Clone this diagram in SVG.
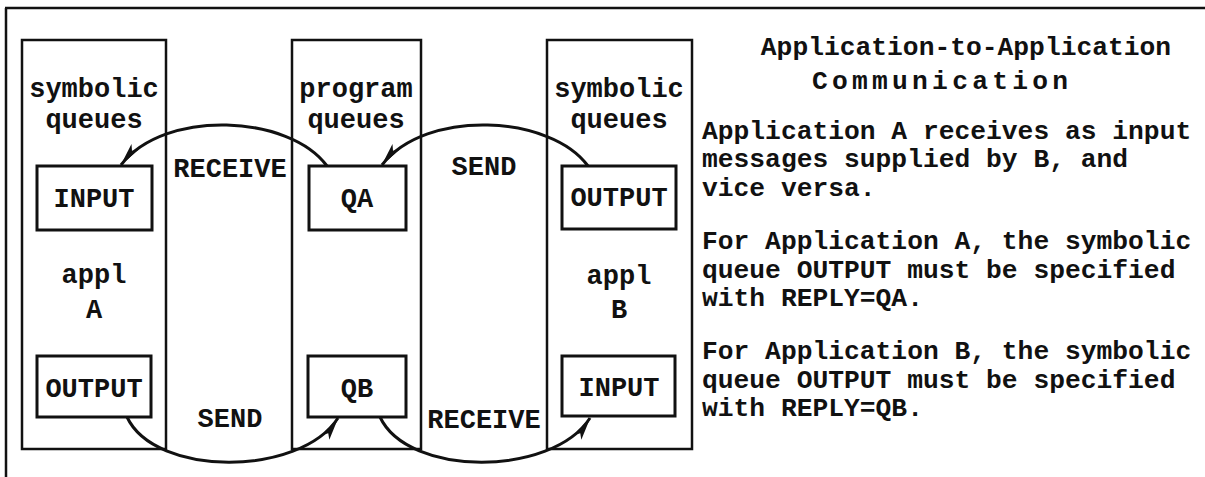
<svg xmlns="http://www.w3.org/2000/svg" width="1205" height="477" viewBox="0 0 1205 477">
  <style>
    .frame { fill: none; stroke: #111; stroke-width: 2.5; }
    .col { fill: none; stroke: #111; stroke-width: 2.5; }
    .box { fill: none; stroke: #111; stroke-width: 3; }
    .arc { fill: none; stroke: #111; stroke-width: 3; }
    text { font-family: "Liberation Mono", "Courier New", monospace; font-weight: bold; font-size: 27px; fill: #111; }
    .c { text-anchor: middle; }
    .note { font-size: 26.3px; }
  </style>
  <defs>
    <marker id="arrow" viewBox="0 0 24 10" refX="23" refY="5" markerWidth="24" markerHeight="10" markerUnits="userSpaceOnUse" orient="auto">
      <path d="M0,0.5 L24,5 L0,9.5 L5,5 Z" fill="#111"/>
    </marker>
  </defs>
  <rect width="1205" height="477" fill="#fff"/>

  <!-- page frame: top rule and left rule -->
  <g id="frame">
    <path class="frame" d="M5,8 H1205 M6,8 V477"/>
  </g>

  <!-- application A column -->
  <g id="col-appl-a">
    <rect class="col" x="22" y="40" width="144" height="409"/>
    <text class="c" x="94" y="97">symbolic</text>
    <text class="c" x="94" y="128">queues</text>
    <text class="c" x="94" y="283">appl</text>
    <text class="c" x="94" y="318">A</text>
  </g>
  <g id="box-a-input">
    <rect class="box" x="37" y="166" width="115" height="64"/>
    <text class="c" x="94" y="207">INPUT</text>
  </g>
  <g id="box-a-output">
    <rect class="box" x="37" y="356" width="114" height="61"/>
    <text class="c" x="94" y="397">OUTPUT</text>
  </g>

  <!-- program queues column -->
  <g id="col-program">
    <rect class="col" x="292" y="40" width="129" height="409"/>
    <text class="c" x="356" y="97">program</text>
    <text class="c" x="356" y="128">queues</text>
  </g>
  <g id="box-qa">
    <rect class="box" x="309" y="166" width="97" height="64"/>
    <text class="c" x="357" y="207">QA</text>
  </g>
  <g id="box-qb">
    <rect class="box" x="308" y="356" width="98" height="61"/>
    <text class="c" x="357" y="397">QB</text>
  </g>

  <!-- application B column -->
  <g id="col-appl-b">
    <rect class="col" x="547" y="40" width="145" height="409"/>
    <text class="c" x="619" y="97">symbolic</text>
    <text class="c" x="619" y="128">queues</text>
    <text class="c" x="619" y="284">appl</text>
    <text class="c" x="619" y="318">B</text>
  </g>
  <g id="box-b-output">
    <rect class="box" x="562" y="166" width="114" height="63"/>
    <text class="c" x="619" y="206">OUTPUT</text>
  </g>
  <g id="box-b-input">
    <rect class="box" x="562" y="356" width="113" height="60"/>
    <text class="c" x="619" y="396">INPUT</text>
  </g>

  <!-- message flows -->
  <g id="connectors">
    <path class="arc" marker-end="url(#arrow)" d="M327,166 C290,115 165,108 121,165"/>
    <path class="arc" marker-end="url(#arrow)" d="M588,166 C551,115 426,108 382,165"/>
    <path class="arc" marker-end="url(#arrow)" d="M127,417 C155,477 300,477 338,418"/>
    <path class="arc" marker-end="url(#arrow)" d="M380,417 C408,477 552,477 590,418"/>
    <text class="c" x="230" y="177">RECEIVE</text>
    <text class="c" x="484" y="175">SEND</text>
    <text class="c" x="230" y="427">SEND</text>
    <text class="c" x="484" y="428">RECEIVE</text>
  </g>

  <!-- explanatory notes -->
  <g id="notes">
    <text class="note c" x="966" y="55">Application-to-Application</text>
    <text class="note" x="812" y="89" textLength="256" lengthAdjust="spacing">Communication</text>
    <text class="note" x="702" y="139">Application A receives as input</text>
    <text class="note" x="702" y="167">messages supplied by B, and</text>
    <text class="note" x="702" y="196">vice versa.</text>
    <text class="note" x="702" y="249">For Application A, the symbolic</text>
    <text class="note" x="702" y="278">queue OUTPUT must be specified</text>
    <text class="note" x="702" y="306">with REPLY=QA.</text>
    <text class="note" x="702" y="359">For Application B, the symbolic</text>
    <text class="note" x="702" y="388">queue OUTPUT must be specified</text>
    <text class="note" x="702" y="416">with REPLY=QB.</text>
  </g>
</svg>
